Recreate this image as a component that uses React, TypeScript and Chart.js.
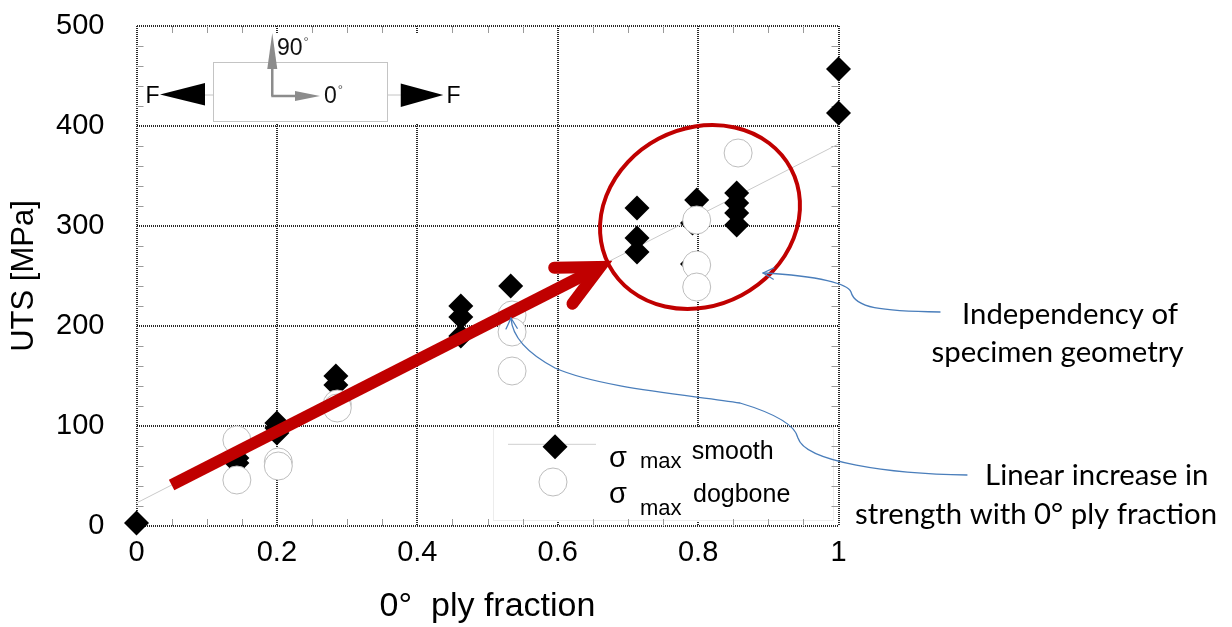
import React, { useEffect, useRef } from 'react';
import { Chart, registerables } from 'chart.js';

Chart.register(...registerables);

// ---------- data ----------
const smoothFrac = [0, 0.143, 0.143, 0.2, 0.2, 0.2, 0.284, 0.284, 0.462, 0.462, 0.462, 0.533, 0.713, 0.713, 0.713, 0.798, 0.792, 0.792, 0.855, 0.855, 0.855, 0.855, 1, 1];
const smoothUTS = [3, 68, 63, 103, 98, 93, 150, 141, 220, 209, 190, 240, 318, 288, 274, 326, 303, 262, 333, 323, 313, 301, 457, 413];

const dogboneFrac = [0.143, 0.143, 0.202, 0.202, 0.286, 0.286, 0.535, 0.535, 0.535, 0.798, 0.798, 0.798, 0.857];
const dogboneUTS = [86, 46, 64, 60, 122, 118, 211, 194, 155, 306, 261, 239, 373];

const trendFrac = [0, 1];
const trendUTS = [23, 382];

const xTickLabels = ['0', '0.2', '0.4', '0.6', '0.8', '1'];
const yTickLabels = ['0', '100', '200', '300', '400', '500'];

// annotation geometry, in data units (ply fraction, MPa)
const callout1 = [[1.1446, 214], [1.0591, 215], [1.0235, 218], [1.0178, 234], [1.0135, 242], [0.9737, 250], [0.8925, 253]];
const callout2 = [[1.183, 51], [1.0734, 52], [0.9523, 64], [0.9423, 88], [0.938, 102], [0.9024, 114], [0.8597, 123], [0.7885, 131], [0.6603, 138], [0.5962, 158], [0.5534, 174], [0.5349, 191], [0.5335, 208]];
const noteLines = [
  { text: 'Independency of', cx: 1.3298, base: 202, w: 0.3087 },
  { text: 'specimen geometry', cx: 1.312, base: 164, w: 0.3632 },
  { text: 'Linear increase in', cx: 1.3678, base: 41, w: 0.3181 },
  { text: 'strength with 0° ply fraction', cx: 1.2813, base: 2, w: 0.5104 },
];

const RED = '#c00000';
const BLUE = '#4a7ebb';
const SANS = '"Liberation Sans", Arial, sans-serif';

const decorPlugin = {
  id: 'decor',
  beforeDatasetsDraw(chart: any) {
    const { ctx, chartArea: a, scales } = chart;
    const X = (v: number) => scales.x.getPixelForValue(v);
    const Y = (v: number) => scales.y.getPixelForValue(v);
    ctx.save();
    ctx.fillStyle = '#ffffff';
    // inset backdrop
    ctx.fillRect(X(0.0094), Y(493), X(0.475) - X(0.0094), Y(402) - Y(493));
    // legend backdrop
    const lx0 = X(0.5085), lx1 = X(0.9922), ly0 = Y(99), ly1 = Y(6);
    ctx.fillRect(lx0, ly0, lx1 - lx0, ly1 - ly0);
    ctx.strokeStyle = '#ececec';
    ctx.lineWidth = 1;
    ctx.strokeRect(Math.round(lx0) + 0.5, Math.round(ly0) + 0.5, Math.round(lx1 - lx0), Math.round(ly1 - ly0));
    // minor ticks (inside, all four sides)
    ctx.strokeStyle = '#9a9a9a';
    ctx.lineWidth = 1;
    const seg = (x1: number, y1: number, x2: number, y2: number) => {
      ctx.beginPath(); ctx.moveTo(x1, y1); ctx.lineTo(x2, y2); ctx.stroke();
    };
    for (let i = 1; i < 20; i++) {
      if (i % 4 === 0) continue;
      const px = Math.round(X(i * 0.05)) + 0.5;
      seg(px, a.bottom, px, a.bottom - 7);
      seg(px, a.top, px, a.top + 7);
    }
    for (let j = 1; j < 25; j++) {
      if (j % 5 === 0) continue;
      const py = Math.round(Y(j * 20)) + 0.5;
      seg(a.left, py, a.left + 7, py);
      seg(a.right, py, a.right - 7, py);
    }
    ctx.restore();
  },
  afterDatasetsDraw(chart: any) {
    const { ctx, scales } = chart;
    const X = (v: number) => scales.x.getPixelForValue(v);
    const Y = (v: number) => scales.y.getPixelForValue(v);
    const seg = (x1: number, y1: number, x2: number, y2: number) => {
      ctx.beginPath(); ctx.moveTo(x1, y1); ctx.lineTo(x2, y2); ctx.stroke();
    };
    const tri = (p: number[][]) => {
      ctx.beginPath(); ctx.moveTo(p[0][0], p[0][1]); ctx.lineTo(p[1][0], p[1][1]); ctx.lineTo(p[2][0], p[2][1]); ctx.closePath(); ctx.fill();
    };
    ctx.save();

    // ---------- inset: loading sketch ----------
    ctx.strokeStyle = '#c4c4c4';
    ctx.lineWidth = 1;
    ctx.strokeRect(Math.round(X(0.1094)) + 0.5, Math.round(Y(464.3)) + 0.5, Math.round(X(0.3573) - X(0.1094)), Math.round(Y(405) - Y(464.3)));
    seg(X(0.0976), Y(431), X(0.1094), Y(431));
    seg(X(0.3573), Y(431), X(0.3764), Y(431));
    ctx.fillStyle = '#000';
    tri([[X(0.0335), Y(431.5)], [X(0.0976), Y(443)], [X(0.0976), Y(420.5)]]);
    tri([[X(0.437), Y(431)], [X(0.3764), Y(442.5)], [X(0.3764), Y(419)]]);
    ctx.font = '23px ' + SANS;
    ctx.textAlign = 'center';
    ctx.textBaseline = 'alphabetic';
    ctx.fillText('F', X(0.0228), Y(423.5));
    ctx.fillText('F', X(0.4516), Y(423.5));
    // gray direction arrows
    ctx.strokeStyle = '#8c8c8c';
    ctx.fillStyle = '#8c8c8c';
    ctx.lineWidth = 2.5;
    const ox = X(0.1934), oy = Y(430);
    seg(ox, oy, ox, Y(458));
    seg(ox - 1, oy, X(0.2258), oy);
    tri([[ox, Y(493)], [ox - 5, Y(457)], [ox + 5, Y(457)]]);
    tri([[X(0.2614), oy], [X(0.2258), oy - 5], [X(0.2258), oy + 5]]);
    ctx.fillStyle = '#111';
    ctx.textAlign = 'left';
    ctx.font = '23px ' + SANS;
    const t90x = X(0.2001), t90y = Y(471);
    ctx.fillText('90', t90x, t90y);
    const w90 = ctx.measureText('90').width;
    const t0x = X(0.2671), t0y = Y(423.5);
    ctx.fillText('0', t0x, t0y);
    const w0 = ctx.measureText('0').width;
    ctx.font = '13px ' + SANS;
    ctx.fillStyle = '#555';
    ctx.fillText('°', t90x + w90 + 1, t90y - 9);
    ctx.fillText('°', t0x + w0 + 1, t0y - 9);

    // ---------- legend ----------
    ctx.strokeStyle = '#cfcfcf';
    ctx.lineWidth = 1;
    seg(X(0.5292), Y(81.7), X(0.6546), Y(81.7));
    const dx = X(0.5962), dy = Y(79.3), r = 12.5;
    ctx.fillStyle = '#000';
    ctx.beginPath(); ctx.moveTo(dx - r, dy); ctx.lineTo(dx, dy - r); ctx.lineTo(dx + r, dy); ctx.lineTo(dx, dy + r); ctx.closePath(); ctx.fill();
    ctx.beginPath(); ctx.arc(X(0.5933), Y(44), 14, 0, Math.PI * 2);
    ctx.fillStyle = '#fff'; ctx.fill();
    ctx.strokeStyle = '#bdbdbd'; ctx.stroke();
    ctx.fillStyle = '#000';
    ctx.textAlign = 'left';
    ctx.font = '29px ' + SANS;
    ctx.fillText('σ', X(0.6731), Y(59.3));
    ctx.fillText('σ', X(0.6731), Y(23));
    ctx.font = '22px ' + SANS;
    ctx.fillText('max', X(0.7172), Y(57.7));
    ctx.fillText('max', X(0.7172), Y(11));
    ctx.font = '25px ' + SANS;
    ctx.fillText('smooth', X(0.7909), Y(66.7));
    ctx.fillText('dogbone', X(0.7927), Y(24.3));

    // ---------- red arrow ----------
    const sx = X(0.05), sy = Y(41), apx = X(0.6745), apy = Y(264);
    const ang = Math.atan2(apy - sy, apx - sx);
    const jx = apx - 11 * Math.cos(ang), jy = apy - 11 * Math.sin(ang);
    const back = ang + Math.PI, L = 46, spread = 26 * Math.PI / 180;
    ctx.strokeStyle = RED;
    ctx.lineWidth = 12;
    ctx.lineCap = 'butt';
    seg(sx, sy, jx - 6 * Math.cos(ang), jy - 6 * Math.sin(ang));
    ctx.lineCap = 'round';
    ctx.lineJoin = 'miter';
    ctx.beginPath();
    ctx.moveTo(jx + L * Math.cos(back - spread), jy + L * Math.sin(back - spread));
    ctx.lineTo(jx, jy);
    ctx.lineTo(jx + L * Math.cos(back + spread), jy + L * Math.sin(back + spread));
    ctx.stroke();

    // ---------- red ellipse ----------
    const ecx = X(0.8027), ecy = Y(309);
    const erx = X(0.8027 + 0.1467) - ecx, ery = Y(309 - 88.6) - ecy;
    ctx.lineWidth = 4;
    ctx.beginPath();
    ctx.ellipse(ecx, ecy, erx, ery, -28 * Math.PI / 180, 0, Math.PI * 2);
    ctx.stroke();

    // ---------- blue callouts ----------
    ctx.strokeStyle = BLUE;
    ctx.lineWidth = 1.3;
    ctx.lineCap = 'round';
    ctx.lineJoin = 'round';
    const drawCallout = (pts: number[][]) => {
      const P = pts.map(([u, v]) => [X(u), Y(v)]);
      ctx.beginPath();
      ctx.moveTo(P[0][0], P[0][1]);
      for (let i = 1; i + 2 < P.length; i += 3) {
        ctx.bezierCurveTo(P[i][0], P[i][1], P[i + 1][0], P[i + 1][1], P[i + 2][0], P[i + 2][1]);
      }
      ctx.stroke();
      const tip = P[P.length - 1], c = P[P.length - 2];
      const a2 = Math.atan2(tip[1] - c[1], tip[0] - c[0]) + Math.PI;
      const hl = 12, hs = 28 * Math.PI / 180;
      ctx.beginPath();
      ctx.moveTo(tip[0] + hl * Math.cos(a2 - hs), tip[1] + hl * Math.sin(a2 - hs));
      ctx.lineTo(tip[0], tip[1]);
      ctx.lineTo(tip[0] + hl * Math.cos(a2 + hs), tip[1] + hl * Math.sin(a2 + hs));
      ctx.stroke();
    };
    drawCallout(callout1);
    drawCallout(callout2);

    // ---------- notes ----------
    const fam = 'Lato, "Open Sans", sans-serif';
    ctx.font = '100px ' + fam;
    let sumM = 0, sumT = 0;
    noteLines.forEach((n) => { sumM += ctx.measureText(n.text).width; sumT += X(n.w) - X(0); });
    const fs = 100 * sumT / sumM;
    ctx.font = fs.toFixed(2) + 'px ' + fam;
    ctx.fillStyle = '#000';
    ctx.textAlign = 'center';
    noteLines.forEach((n) => ctx.fillText(n.text, X(n.cx), Y(n.base)));

    ctx.restore();
  },
};

export default function App() {
  const ref = useRef<HTMLCanvasElement | null>(null);
  useEffect(() => {
    if (!ref.current) return;
    const chart = new Chart(ref.current, {
      type: 'scatter',
      data: {
        datasets: [
          {
            label: 'trend',
            data: trendFrac.map((v, i) => ({ x: v, y: trendUTS[i] })),
            showLine: true,
            borderColor: '#cacaca',
            borderWidth: 1,
            pointRadius: 0,
            order: 3,
            clip: false,
          } as any,
          {
            label: 'σ max smooth',
            data: smoothFrac.map((v, i) => ({ x: v, y: smoothUTS[i] })),
            pointStyle: 'rectRot',
            pointRadius: 12.5,
            backgroundColor: '#000',
            borderColor: '#000',
            borderWidth: 0,
            order: 2,
            clip: false,
          } as any,
          {
            label: 'σ max dogbone',
            data: dogboneFrac.map((v, i) => ({ x: v, y: dogboneUTS[i] })),
            pointStyle: 'circle',
            pointRadius: 14,
            backgroundColor: '#fff',
            borderColor: '#bdbdbd',
            borderWidth: 1,
            order: 1,
            clip: false,
          } as any,
        ],
      },
      options: {
        animation: false,
        responsive: false,
        maintainAspectRatio: false,
        events: [],
        layout: { padding: { left: 0, top: 26, right: 393.5, bottom: 0 } },
        plugins: { legend: { display: false }, tooltip: { enabled: false } },
        scales: {
          x: {
            type: 'linear',
            min: 0,
            max: 1,
            afterFit: (s: any) => { s.height = 101; s.paddingLeft = 0; s.paddingRight = 0; s.paddingTop = 0; s.paddingBottom = 0; },
            ticks: {
              stepSize: 0.2,
              color: '#000',
              padding: 10,
              font: { family: SANS, size: 29 },
              callback: (_v: any, i: number) => xTickLabels[i] ?? '',
            },
            grid: { color: '#2a2a2a', lineWidth: 2, drawTicks: false },
            border: { display: false, dash: [1, 1] },
            title: {
              display: true,
              text: '0°  ply fraction',
              color: '#000',
              font: { family: SANS, size: 34 },
              padding: { top: 0, bottom: 0 },
            },
          },
          y: {
            type: 'linear',
            min: 0,
            max: 500,
            afterFit: (s: any) => { s.width = 136.5; s.paddingLeft = 0; s.paddingRight = 0; s.paddingTop = 0; s.paddingBottom = 0; },
            ticks: {
              stepSize: 100,
              color: '#000',
              padding: 32,
              font: { family: SANS, size: 29 },
              callback: (_v: any, i: number) => yTickLabels[i] ?? '',
            },
            grid: { color: '#2a2a2a', lineWidth: 2, drawTicks: false },
            border: { display: false, dash: [1, 1] },
            title: {
              display: true,
              text: 'UTS [MPa]',
              color: '#000',
              font: { family: SANS, size: 31 },
              padding: { top: 6, bottom: 0 },
            },
          },
        },
      } as any,
      plugins: [decorPlugin],
    });
    return () => chart.destroy();
  }, []);
  return (
    <div style={{ position: 'fixed', left: 0, top: 0, width: 1232, height: 627, background: '#fff' }}>
      <canvas ref={ref} width={1232} height={627} style={{ display: 'block' }} />
    </div>
  );
}
